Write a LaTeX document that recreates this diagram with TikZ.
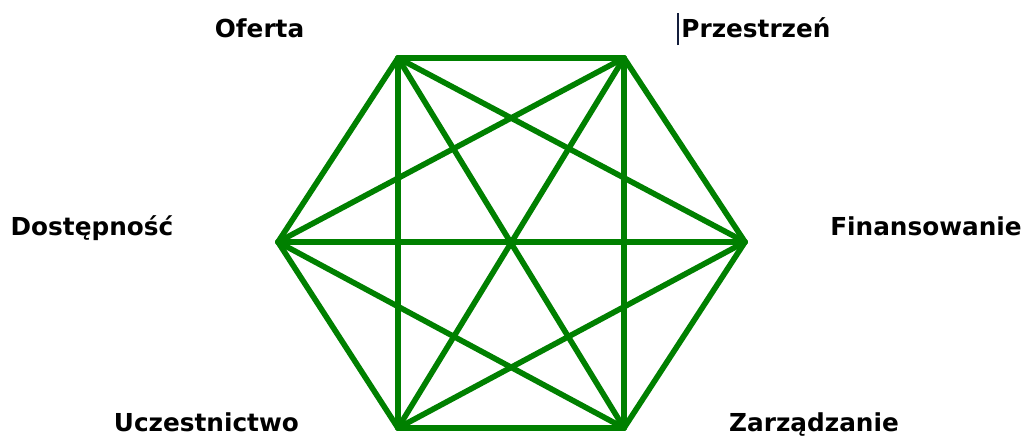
\documentclass[tikz,border=0pt]{standalone}
\usepackage{fontspec}
\setmainfont{DejaVu Sans}
\usepackage{tikz}
\usetikzlibrary{positioning}

\definecolor{hexgreen}{RGB}{0,128,0}
\definecolor{cursorblue}{RGB}{20,30,60}

\begin{document}
\begin{tikzpicture}[
    edge/.style={hexgreen, line width=4pt, line cap=round, line join=round},
    label/.style={font=\fontsize{17.6}{20}\selectfont\bfseries, anchor=base, inner sep=0pt}
]
    \useasboundingbox (0,0) rectangle (25.6,10.975);

    % corners of the hexagon
    \coordinate (v1) at (9.95,9.525);
    \coordinate (v2) at (15.6,9.525);
    \coordinate (v3) at (18.625,4.925);
    \coordinate (v4) at (15.6,0.275);
    \coordinate (v5) at (9.95,0.275);
    \coordinate (v6) at (6.95,4.925);

    % every corner joined to every other
    \foreach \i in {1,...,5}{
        \pgfmathtruncatemacro{\nxt}{\i+1}
        \foreach \j in {\nxt,...,6}{
            \draw[edge] (v\i) -- (v\j);
        }
    }

    \node[label] (oferta) at (6.49,10.025) {Oferta};
    \node[label] (przestrzen) at (18.9,10.025) {Przestrzeń};
    \node[label] (dostepnosc) at (2.3,5.075) {Dostępność};
    \node[label] (finansowanie) at (23.15,5.075) {Finansowanie};
    \node[label] (uczestnictwo) at (5.16,0.175) {Uczestnictwo};
    \node[label] (zarzadzanie) at (20.35,0.175) {Zarządzanie};

    % text cursor
    \draw[cursorblue, line width=1.4pt] ([xshift=-2pt,yshift=-5pt]przestrzen.base west) -- ++(0,0.8);
\end{tikzpicture}
\end{document}
